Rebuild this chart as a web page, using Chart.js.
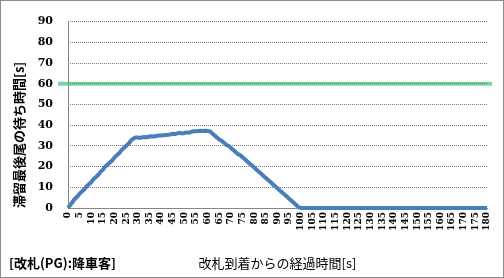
<!DOCTYPE html>
<html>
<head>
<meta charset="utf-8">
<script src="https://cdn.jsdelivr.net/npm/chart.js@4/dist/chart.umd.min.js"></script>
<style>
  body { margin: 0; background: #fff; }
  canvas { display: block; }
</style>
</head>
<body>
<canvas id="chart-area" width="504" height="278"></canvas>
<script>
// elapsed time since arriving at the gate [s]
const seconds = [];
for (let s = 0; s <= 180; s++) seconds.push(s);

// waiting time of the last person in the queue [s]
const waitRise = [0, 1.5, 3, 4.5, 5.5, 7, 8, 9, 10.5, 11.5, 12.5, 14, 15, 16, 17.5,
  18.5, 20, 21, 22, 23, 24.5, 25.5, 26.5, 28, 29, 30, 31, 32.5, 33.5, 34];
const waitPlateau = [34, 33.8, 34.2, 34.3, 34.2, 34.5, 34.6, 34.5, 34.8, 35, 35, 35.1,
  35.2, 35.3, 35.5, 35.8, 35.7, 36, 36.3, 36, 36.2, 36.5, 36.4, 36.8, 37, 37, 37.2,
  37.3, 37.2, 37.3, 37.2];
const waitFall = [37, 36, 35, 34, 33, 32.5, 31.5, 30.5, 30, 29, 28, 27, 26, 25.5, 24.5,
  23.5, 22.5, 21.5, 20.5, 19.5, 18.5, 17.5, 16.5, 15.5, 14.5, 13.5, 12.5, 11.5, 10.5,
  9.5, 8.5, 7.5, 6.5, 5.5, 4.5, 3.5, 2.5, 1.5, 0.5, 0];
const waitEmpty = [
  0, 0, 0, 0, 0, 0, 0, 0, 0, 0, 0, 0, 0, 0, 0, 0, 0, 0, 0, 0,
  0, 0, 0, 0, 0, 0, 0, 0, 0, 0, 0, 0, 0, 0, 0, 0, 0, 0, 0, 0,
  0, 0, 0, 0, 0, 0, 0, 0, 0, 0, 0, 0, 0, 0, 0, 0, 0, 0, 0, 0,
  0, 0, 0, 0, 0, 0, 0, 0, 0, 0, 0, 0, 0, 0, 0, 0, 0, 0, 0, 0];
const waitTime = [...waitRise, ...waitPlateau, ...waitFall, ...waitEmpty];

const limitLine = 60; // green reference line
const yTitle = '滞留最後尾の待ち時間[s]';
const xTitle = '改札到着からの経過時間[s]';
const caption = '[改札(PG):降車客]';

const jpFont = '"Noto Sans CJK JP", sans-serif';

// dotted stroke for the gridlines, as a repeating pattern
function dotPattern() {
  const c = document.createElement('canvas');
  c.width = 2;
  c.height = 2;
  const g = c.getContext('2d');
  g.fillStyle = '#767676';
  g.fillRect(0, 0, 1, 2);
  return g.createPattern(c, 'repeat');
}

const extras = {
  id: 'extras',
  beforeDraw(chart) {
    const { ctx, chartArea } = chart;
    const y = chart.scales.y.getPixelForValue(limitLine);
    ctx.save();
    ctx.strokeStyle = '#7ad3a0';
    ctx.lineWidth = 4;
    ctx.beginPath();
    ctx.moveTo(chartArea.left - 10, y);
    ctx.lineTo(chartArea.right + 5, y);
    ctx.stroke();
    ctx.restore();
  },
  afterDraw(chart) {
    const { ctx, width, height } = chart;
    ctx.save();
    ctx.strokeStyle = '#8c8c8c';
    ctx.lineWidth = 1;
    ctx.strokeRect(0.5, 0.5, width - 1, height - 1);
    ctx.fillStyle = '#000';
    ctx.font = 'bold 13px ' + jpFont;
    ctx.textBaseline = 'middle';
    ctx.fillText(caption, 9, 263);
    ctx.restore();
  },
};

const config = {
  type: 'line',
  data: {
    datasets: [{
      data: seconds.map((s, i) => ({ x: s, y: waitTime[i] })),
      borderColor: '#4a7ebb',
      borderWidth: 4,
      pointRadius: 0,
      tension: 0,
      clip: false,
    }],
  },
  options: {
    responsive: false,
    animation: false,
    layout: { padding: { left: 4, right: 17, top: 16, bottom: 0 } },
    plugins: { legend: { display: false }, tooltip: { enabled: false } },
    scales: {
      x: {
        type: 'linear',
        min: 0,
        max: 180,
        grid: { drawOnChartArea: false, drawTicks: false },
        border: { color: '#868686', width: 1 },
        ticks: {
          stepSize: 5,
          autoSkip: false,
          minRotation: 90,
          maxRotation: 90,
          padding: 4,
          color: '#000',
          font: { family: '"DejaVu Serif"', weight: 'bold', size: 9 },
        },
        title: {
          display: true,
          text: xTitle,
          color: '#000',
          font: { family: jpFont, size: 13 },
          padding: { top: 0, bottom: 7 },
        },
        afterFit(scale) { scale.height = 70; },
      },
      y: {
        min: 0,
        max: 90,
        grid: { color: dotPattern(), lineWidth: 1, drawTicks: false },
        border: { color: '#868686', width: 1 },
        ticks: {
          stepSize: 10,
          padding: 15,
          color: '#000',
          font: { family: '"DejaVu Serif"', weight: 'bold', size: 11 },
        },
        title: {
          display: true,
          text: yTitle,
          align: 'start',
          color: '#000',
          font: { family: jpFont, weight: 'bold', size: 13 },
          padding: { top: 7, bottom: 0 },
        },
        afterFit(scale) { scale.width = 64; },
      },
    },
  },
  plugins: [extras],
};

window.myLine = new Chart(document.getElementById('chart-area').getContext('2d'), config);
</script>
</body>
</html>
